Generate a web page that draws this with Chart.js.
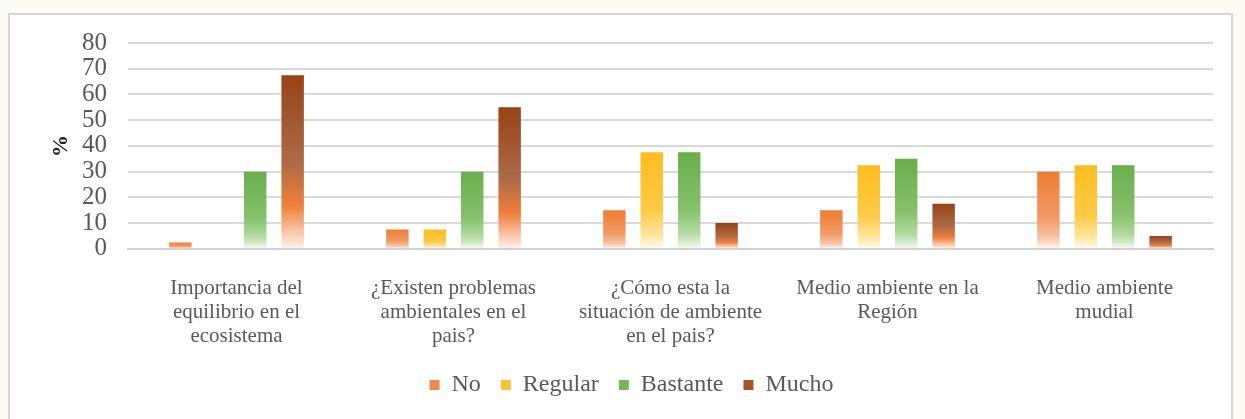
<!DOCTYPE html>
<html>
<head>
<meta charset="utf-8">
<script src="https://cdn.jsdelivr.net/npm/chart.js@4"></script>
<style>
  html, body { margin: 0; padding: 0; }
  body { width: 1245px; height: 419px; background: #fbfbf4; overflow: hidden; position: relative; }
  .frame {
    position: absolute; left: 8px; top: 13px; width: 1225px; height: 420px;
    background: #fff; border: 2px solid #d6d6d6; box-sizing: border-box;
  }
  .frame canvas { position: absolute; left: 0; top: 0; }
</style>
</head>
<body>
<div class="frame">
  <canvas id="chart" width="1221" height="416"></canvas>
</div>
<script>
// preguntas (eje x)
const categorias = [
    ['Importancia del', 'equilibrio en el', 'ecosistema'],
    ['¿Existen problemas', 'ambientales en el', 'pais?'],
    ['¿Cómo esta la', 'situación de ambiente', 'en el pais?'],
    ['Medio ambiente en la', 'Región'],
    ['Medio ambiente', 'mudial']
];

// porcentajes por respuesta
const no       = [2.5, 7.5, 15, 15, 30];
const regular  = [0, 7.5, 37.5, 32.5, 32.5];
const bastante = [30, 30, 37.5, 35, 32.5];
const mucho    = [67.5, 55, 10, 17.5, 5];

const yTicks = [0, 10, 20, 30, 40, 50, 60, 70, 80];

const fuente = '"Liberation Serif", "Times New Roman", serif';
const gris = '#595959';

// color plano de cada serie (leyenda)
const planos = ['#ef8a4f', '#fdc233', '#72b655', '#a4552a'];

// degradado vertical por barra: color arriba, blanco abajo
function degradado(stops, plano) {
    return ctx => {
        const chart = ctx.chart;
        if (!chart.chartArea || !ctx.parsed) return plano;
        const y = chart.scales.y;
        const top = y.getPixelForValue(ctx.parsed.y);
        const base = y.getPixelForValue(0);
        if (base - top < 1) return plano;
        const g = chart.ctx.createLinearGradient(0, top, 0, base);
        stops.forEach(s => g.addColorStop(s[0], s[1]));
        return g;
    };
}

const ctx = document.getElementById('chart').getContext('2d');

new Chart(ctx, {
    type: 'bar',
    data: {
        labels: categorias,
        datasets: [{
            label: 'No',
            data: no,
            backgroundColor: degradado([[0, '#ee7d33'], [0.6, '#f29a66'], [0.85, '#f7c3a3'], [1, '#fff6f0']], planos[0])
        }, {
            label: 'Regular',
            data: regular,
            backgroundColor: degradado([[0, '#fdbd1f'], [0.6, '#fdca46'], [0.85, '#fee49a'], [1, '#fffaf0']], planos[1])
        }, {
            label: 'Bastante',
            data: bastante,
            backgroundColor: degradado([[0, '#6aae4c'], [0.6, '#86c26c'], [0.85, '#b6dca4'], [1, '#f4fbf0']], planos[2])
        }, {
            label: 'Mucho',
            data: mucho,
            backgroundColor: degradado([[0, '#984316'], [0.5, '#ad6a47'], [0.75, '#ef7f3a'], [1, '#fff3ec']], planos[3])
        }]
    },
    options: {
        responsive: false,
        animation: false,
        layout: {
            padding: { left: 40, right: 18, top: 28, bottom: 24 }
        },
        datasets: {
            bar: {
                categoryPercentage: 0.69,
                barPercentage: 0.6
            }
        },
        scales: {
            y: {
                min: 0,
                max: 80,
                afterBuildTicks: axis => {
                    axis.ticks = yTicks.map(v => ({ value: v }));
                },
                border: { display: false },
                grid: {
                    color: '#d9d9d9',
                    lineWidth: 2,
                    drawTicks: false
                },
                ticks: {
                    color: gris,
                    padding: 21,
                    autoSkip: false,
                    font: { family: fuente, size: 25, lineHeight: 0.4 }
                },
                title: {
                    display: true,
                    text: '%',
                    color: '#222',
                    padding: { top: 0, bottom: -11 },
                    font: { family: fuente, size: 22, weight: 'bold', lineHeight: 1 }
                }
            },
            x: {
                border: { display: true, color: '#d0d0d0', width: 2 },
                grid: { display: false },
                ticks: {
                    color: gris,
                    padding: 20,
                    maxRotation: 0,
                    autoSkip: false,
                    font: { family: fuente, size: 21, lineHeight: 1.13 }
                },
                // acerca la leyenda a las etiquetas
                afterFit: axis => { axis.height -= 15; }
            }
        },
        plugins: {
            legend: {
                position: 'bottom',
                labels: {
                    color: gris,
                    boxWidth: 10,
                    boxHeight: 10,
                    padding: 20,
                    font: { family: fuente, size: 24 },
                    generateLabels: chart => Chart.defaults.plugins.legend.labels.generateLabels(chart)
                        .map((item, i) => Object.assign(item, { fillStyle: planos[i], strokeStyle: planos[i], lineWidth: 0 }))
                }
            },
            tooltip: { enabled: false }
        }
    }
});
</script>
</body>
</html>
